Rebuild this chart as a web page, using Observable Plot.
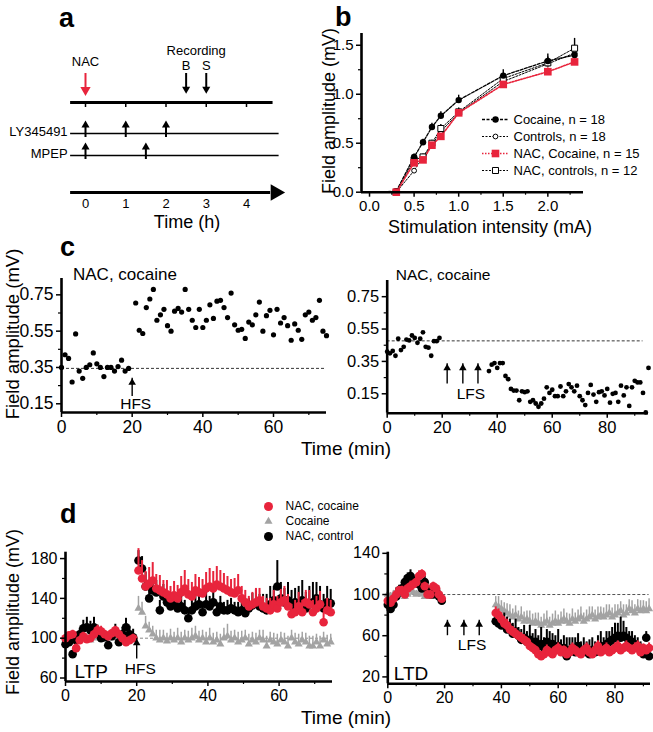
<!DOCTYPE html>
<html><head><meta charset="utf-8">
<script src="https://cdn.jsdelivr.net/npm/d3@7"></script>
<script src="https://cdn.jsdelivr.net/npm/@observablehq/plot@0.6"></script>
<style>
html,body{margin:0;padding:0;background:#fff;}
#fig{position:relative;width:653px;height:732px;overflow:hidden;font-family:"Liberation Sans",Arial,Helvetica,sans-serif;color:#000;}
.lbl{position:absolute;white-space:nowrap;line-height:1;}
</style></head><body><div id="fig"></div>
<script>
const RED = "#e8243c";
const GREY = "#a3a3a3";
const FONT = '"Liberation Sans", Arial, Helvetica, sans-serif';

// ---------- panel a (schematic timeline, hours)
const aHourTicks = [0, 1, 2, 3, 4];
const aLineStart = -0.37, aMainEnd = 4.66, aRowEnd = 4.81, aAxisEnd = 4.6, aAxisHead = 4.72;
const nacTimes = [0];
const nacLabel = ["NAC"];
const recordingTimes = [2.5, 3];
const recordingLabels = ["B", "S"];
const recordingTitle = ["Recording"];
const drugRows = ["LY345491", "MPEP"];
const lyTimes = [0, 1, 2];
const mpepTimes = [0, 1.5];

// ---------- panel b (input-output curves)
const bX = [0, 0.3, 0.5, 0.6, 0.7, 0.8, 1.0, 1.5, 2.0, 2.3];
const bCocaine     = [0, 0.01, 0.36, 0.51, 0.665, 0.78, 0.94, 1.19, 1.34, 1.40];
const bCocaineErr  = [0, 0, 0.03, 0.03, 0.04, 0.04, 0.05, 0.06, 0.07, 0.05];
const bControls    = [0, 0, 0.22, 0.36, 0.48, 0.62, 0.81, 1.13, 1.31, 1.42];
const bNacCocaine  = [0, 0, 0.30, 0.33, 0.48, 0.57, 0.81, 1.10, 1.23, 1.33];
const bNacCocaineErr = [0, 0, 0.03, 0.03, 0.03, 0.04, 0.04, 0.04, 0.04, 0.04];
const bNacControls = [0, 0, 0.33, 0.36, 0.50, 0.65, 0.82, 1.16, 1.32, 1.47];
const bNacControlsErr = [0, 0, 0.03, 0.03, 0.03, 0.04, 0.04, 0.05, 0.06, 0.10];
const bKeys = ["cocaine", "controls", "nacCocaine", "nacControls"];
const bLegendLabels = ["Cocaine, n = 18", "Controls, n = 18", "NAC, Cocaine, n = 15", "NAC, controls, n = 12"];
const bMarkerFrom = 0.3;

// ---------- panel c (single experiments)
const cLeftPre = [0.35,0.42,0.40,0.27,0.535,0.33,0.29,0.35,0.365,0.43,0.37,0.35,0.30,0.35,0.35,0.33,0.355,0.39,0.33,0.345];
const cLeftPost = [0.705,0.555,0.537,0.68,0.727,0.78,0.61,0.64,0.67,0.58,
  0.55,0.66,0.675,0.655,0.78,0.67,0.61,0.57,0.67,0.57,
  0.61,0.695,0.62,0.715,0.72,0.68,0.625,0.76,0.585,0.555,
  0.56,0.51,0.60,0.585,0.64,0.71,0.55,0.635,0.665,0.53,
  0.67,0.595,0.625,0.58,0.50,0.59,0.555,0.505,0.64,0.655,
  0.61,0.625,0.72,0.55,0.525];
const cRightPre = [0.41,0.40,0.415,0.385,0.49,0.42,0.44,0.485,0.48,0.51,0.495,0.465,0.49,0.53,0.44,0.435,0.385,0.475,0.475,0.495];
const cRightPost = [0.29,0.33,0.34,0.31,0.34,0.34,0.26,0.24,0.18,0.17,
  0.17,0.11,0.165,0.16,0.165,0.10,0.11,0.09,0.07,0.09,
  0.12,0.19,0.155,0.175,0.135,0.135,0.195,0.135,0.165,0.21,
  0.19,0.165,0.20,0.135,0.11,0.08,0.155,0.205,0.145,0.10,
  0.16,0.165,0.14,0.18,0.095,0.15,0.155,0.10,0.20,0.14,
  0.19,0.075,0.19,0.23,0.22,0.22,0.155,0.035,0.31];
const cBaselines = [0.345, 0.477];
const hfsTimeC = [20], hfsTailC = 0.19, hfsTipC = 0.29;
const lfsTimesC = [21.8, 27.5, 33], lfsTailC = 0.21, lfsTipC = 0.335;

// ---------- panel d (group averages, % baseline)
const dlRedPre = [100,103,104,90,98,102,99,100,104,108,107,104,102,105,108,104,100,96,98,100];
const dlRedPreErr = [3,3,4,4,3,4,4,3,4,5,5,4,4,4,4,4,4,3,4,4];
const dlBlackPre = [94,96,84,98,104,110,111,108,111,106,100,101,93,102,106,96,104,111,104,101];
const dlBlackPreErr = [4,4,3,5,6,8,10,9,10,7,5,6,4,6,8,5,7,9,8,8];
const dlGreyPre = [100,98,99,100,101,102,100,98,100,101,100,99,100,102,100,99,101,100,100,100];
const dlGreyPreErr = [4,4,4,4,5,5,4,4,5,4,4,5,4,4,5,4,4,4,4,4];
const dlRedPost = [168,160,152,155,158,150,148,146,144,140,143,140,146,150,144,142,148,146,145,150,
  152,150,154,152,150,148,146,145,148,140,136,132,134,136,138,132,130,128,134,130,
  136,138,132,124,126,132,126,136,134,126,130,134,116,128,126];
const dlRedPostErr = [22,18,15,16,18,14,15,12,14,12,14,13,16,18,15,14,16,15,14,16,
  18,17,18,16,15,14,13,15,16,12,12,10,12,14,12,10,10,12,14,12,
  13,14,12,10,12,14,12,12,14,12,12,13,10,12,12];
const dlBlackPost = [178,170,152,140,148,146,128,142,136,132,134,130,132,128,120,128,132,134,126,134,
  132,136,126,132,128,128,130,128,126,128,125,130,133,135,132,130,128,134,138,152,
  140,136,138,132,136,134,138,130,134,136,140,134,130,136,135];
const dlBlackPostErr = [10,12,14,12,10,12,10,12,10,8,10,10,12,10,8,10,12,10,10,12,
  10,12,10,10,8,10,10,8,10,10,8,10,12,14,12,14,16,18,14,26,
  16,14,18,16,14,18,20,16,18,20,16,18,14,16,14];
const dlGreyPost = [130,126,112,108,104,100,98,100,97,100,98,100,96,100,98,100,102,98,100,96,
  100,96,98,94,100,102,98,100,96,98,100,94,98,96,100,98,92,98,96,94,
  98,96,92,100,96,94,98,96,92,92,96,92,98,94,96];
const dlGreyPostErr = [12,10,10,8,8,8,10,8,8,9,8,10,10,8,9,10,10,9,8,10,
  10,9,8,10,10,12,9,8,10,9,8,10,8,9,8,10,10,8,9,10,
  8,9,10,8,9,10,8,9,10,10,8,10,8,9,8];

const drRedPre = [94,92,96,100,104,104,100,106,108,110,112,118,120,108,100,100,108,106,100,96];
const drRedPreErr = [3,3,3,4,4,4,4,4,5,4,4,5,4,4,4,4,4,4,3,3];
const drBlackPre = [90,86,90,98,104,106,112,116,118,114,112,110,106,112,104,100,100,104,98,94];
const drBlackPreErr = [3,3,4,4,5,5,6,5,6,5,5,6,5,6,5,4,4,4,4,3];
const drGreyPre = [100,98,100,102,100,100,98,100,104,102,100,102,100,98,100,100,102,100,100,98];
const drGreyPreErr = [4,4,4,5,4,4,4,5,5,4,4,5,4,4,4,4,5,4,4,4];
const drRedPost = [82,80,76,72,70,66,64,62,60,58,56,54,50,48,46,42,40,42,46,44,
  42,46,48,44,46,42,44,48,46,44,42,46,48,44,42,46,50,44,46,48,
  44,46,48,50,46,48,50,48,46,48,50,44,48,46,48];
const drRedPostErr = [6,6,5,5,6,5,5,5,4,5,5,4,4,4,4,4,4,4,5,4,
  4,4,5,4,4,4,4,5,4,4,4,4,5,4,4,4,5,4,4,5,
  4,4,5,5,4,4,5,4,4,5,5,4,4,4,5];
const drBlackPost = [74,72,70,72,66,68,62,64,60,56,58,54,56,52,54,50,52,48,54,50,
  52,48,50,46,48,40,46,48,44,50,44,46,44,42,46,44,48,50,48,52,
  54,56,58,60,58,60,58,56,54,52,50,46,42,58,40];
const drBlackPostErr = [8,10,8,10,12,8,10,12,8,10,12,10,14,10,12,10,16,10,12,14,
  10,12,16,10,12,18,12,10,14,12,10,12,10,14,12,10,12,14,10,12,
  10,12,14,12,20,14,10,8,10,8,8,8,6,6,6];
const drGreyPost = [90,88,86,84,82,80,78,80,76,78,74,76,74,72,74,72,70,72,74,70,
  72,74,72,74,76,74,72,76,74,76,78,74,76,78,80,76,78,80,78,80,
  82,78,80,82,84,80,82,86,84,82,86,84,86,84,86];
const drGreyPostErr = [8,10,8,8,9,10,8,9,8,10,9,8,10,9,8,10,8,9,10,8,
  9,10,8,9,10,8,9,10,8,9,10,8,9,10,8,9,10,8,9,10,
  8,9,10,8,9,10,8,9,10,8,9,10,8,9,10];
const dBaseline = [100];
const dLegendLabels = ["NAC, cocaine", "Cocaine", "NAC, control"];
const hfsTimeD = [20], hfsTailD = 79, hfsTipD = 99.5;
const lfsTimesD = [21, 26.8, 32.2], lfsTailD = 60, lfsTipD = 75;

// sampling grids (minutes)
const preT = d3.range(0, 20);
const cLeftPostT = d3.range(21, 76);
const cRightPostT = d3.range(37, 96);
const dLeftPostT = d3.range(20.5, 75, 1);
const dRightPostT = d3.range(38, 93);

// ---------- helpers
const fig = document.getElementById("fig");
function place(svg, left, top) {
  svg.style.position = "absolute"; svg.style.left = left + "px"; svg.style.top = top + "px";
  fig.appendChild(svg);
}
function label(text, x, y, {size = 16, anchor = "middle", rotate = false, bold = false} = {}) {
  const d = document.createElement("div");
  d.className = "lbl"; d.textContent = text;
  d.style.fontSize = size + "px"; if (bold) d.style.fontWeight = "bold";
  d.style.left = x + "px"; d.style.top = y + "px";
  const tx = anchor === "middle" ? "-50%" : anchor === "end" ? "-100%" : "0";
  d.style.transform = `translate(${rotate ? "-50%" : tx},-50%)` + (rotate ? " rotate(-90deg)" : "");
  fig.appendChild(d);
}
const baseStyle = (fs) => ({fontFamily: FONT, fontSize: fs + "px", color: "black", background: "transparent", overflow: "visible"});
function rows(ts, vs, es) { return ts.map((t, i) => ({t, v: vs[i], e: es ? es[i] : 0})); }
function axesMarks({xd, yd, xMajor, xMinor, yMajor, yMinor, xFmt, yFmt, fs}) {
  return [
    Plot.axisX({ticks: xMinor, tickSize: 3, tickFormat: () => "", label: null, strokeWidth: 1.2}),
    Plot.axisY({ticks: yMinor, tickSize: 3, tickFormat: () => "", label: null, strokeWidth: 1.2}),
    Plot.axisX({ticks: xMajor, tickSize: 5, tickPadding: 3, tickFormat: xFmt, label: null, fontSize: fs, strokeWidth: 1.5}),
    Plot.axisY({ticks: yMajor, tickSize: 5, tickPadding: 3, tickFormat: yFmt, label: null, fontSize: fs, strokeWidth: 1.5}),
    Plot.ruleX([xd[0]], {y1: yd[0], y2: yd[1], strokeWidth: 2.6}),
    Plot.ruleY([yd[0]], {x1: xd[0], x2: xd[1], strokeWidth: 2.6})
  ];
}
function upArrows(ts, tail, tip, sw = 1.4) {
  return [
    Plot.ruleX(ts, {x: d => d, y1: tip, y2: tail, strokeWidth: sw}),
    Plot.dot(ts, {x: d => d, y: () => tip, symbol: "triangle", r: 2.8, fill: "black", dy: 4.3})
  ];
}
function seriesMarks(black, red, grey) {
  return [
    Plot.ruleX(grey, {x: "t", y1: "v", y2: d => d.v + d.e, stroke: GREY, strokeWidth: 1.5}),
    Plot.dot(grey, {x: "t", y: "v", symbol: "triangle", r: 3, fill: GREY}),
    Plot.ruleX(black, {x: "t", y1: "v", y2: d => d.v + d.e, stroke: "black", strokeWidth: 2}),
    Plot.dot(black, {x: "t", y: "v", r: 4.3, fill: "black"}),
    Plot.ruleX(red, {x: "t", y1: "v", y2: d => d.v + d.e, stroke: RED, strokeWidth: 2}),
    Plot.dot(red, {x: "t", y: "v", r: 4.3, fill: RED})
  ];
}
function safePlace(fn, left, top) {
  try { place(fn(), left, top); } catch (e) { console.error(e); }
}

// ================= panel a =================
const aX = {domain: [0, 4], range: [85, 246], axis: null};
const bandRows = (domain, range) => ({type: "band", domain, range, paddingInner: 1, paddingOuter: 0, axis: null});
safePlace(() => Plot.plot({
  width: 300, height: 115, margin: 0, x: aX,
  y: bandRows(["main"], [101.7, 101.7]),
  style: baseStyle(13),
  marks: [
    Plot.ruleY(["main"], {y: d => d, x1: aLineStart, x2: aMainEnd, strokeWidth: 3}),
    Plot.tickX(aHourTicks, {x: d => d, y: () => "main", insetTop: 0, insetBottom: -5, strokeWidth: 1.5}),
    Plot.tickX(nacTimes, {x: d => d, y: () => "main", insetTop: -29, insetBottom: 12, stroke: RED, strokeWidth: 2}),
    Plot.dot(nacTimes, {x: d => d, y: () => "main", symbol: "triangle", rotate: 180, r: 3.8, fill: RED, dy: -12.5}),
    Plot.text(nacLabel, {x: () => nacTimes[0], y: () => "main", text: d => d, dy: -41, fontSize: 13}),
    Plot.tickX(recordingTimes, {x: d => d, y: () => "main", insetTop: -29, insetBottom: 14, strokeWidth: 2}),
    Plot.dot(recordingTimes, {x: d => d, y: () => "main", symbol: "triangle", rotate: 180, r: 3, fill: "black", dy: -13.4}),
    Plot.text(recordingTimes, {x: d => d, y: () => "main", text: (d, i) => recordingLabels[i], dy: -37, fontSize: 13}),
    Plot.text(recordingTitle, {x: () => d3.mean(recordingTimes), y: () => "main", text: d => d, dy: -52, fontSize: 13})
  ]
}), 0, 0);

const drugEvents = [...lyTimes.map(t => ({t, row: drugRows[0]})), ...mpepTimes.map(t => ({t, row: drugRows[1]}))];
safePlace(() => Plot.plot({
  width: 300, height: 170, margin: 0, x: aX,
  y: bandRows(drugRows, [133, 155]),
  style: baseStyle(13),
  marks: [
    Plot.ruleY(drugRows, {y: d => d, x1: aLineStart, x2: aRowEnd, strokeWidth: 1.6}),
    Plot.text(drugRows, {x: () => aLineStart, y: d => d, text: d => d, textAnchor: "end", dx: -3, dy: -1.5, fontSize: 13}),
    Plot.tickX(drugEvents, {x: "t", y: "row", insetTop: -9, insetBottom: -4, strokeWidth: 2}),
    Plot.dot(drugEvents, {x: "t", y: "row", symbol: "triangle", r: 3, fill: "black", dy: -8.3})
  ]
}), 0, 0);

safePlace(() => Plot.plot({
  width: 300, height: 240, marginTop: 0, marginLeft: 0, marginRight: 0, marginBottom: 48,
  x: {domain: [0, 4], range: [85, 246]},
  y: {type: "point", domain: ["axis"], range: [192, 192], padding: 0, axis: null},
  style: baseStyle(13),
  marks: [
    Plot.ruleY(["axis"], {y: d => d, x1: aLineStart, x2: aAxisEnd, strokeWidth: 3}),
    Plot.dot(["axis"], {x: () => aAxisHead, y: d => d, symbol: "triangle", rotate: 90, r: 6.2, fill: "black"}),
    Plot.axisX({ticks: aHourTicks, tickSize: 0, tickPadding: 6, tickFormat: d3.format("d"), label: null, fontSize: 13})
  ]
}), 0, 0);

// ================= panel b =================
const bRows = bX.map((x, i) => ({x, cocaine: bCocaine[i], controls: bControls[i], nacCocaine: bNacCocaine[i], nacControls: bNacControls[i],
  cocaineErr: bCocaineErr[i], nacCocaineErr: bNacCocaineErr[i], nacControlsErr: bNacControlsErr[i]}));
const bStyle = {
  cocaine:     {stroke: "black", dash: "3,1.5", sw: 1.3, symbol: "circle", r: 3.2, fill: "black", mstroke: "none"},
  controls:    {stroke: "black", dash: "2,1.5", sw: 1,   symbol: "circle", r: 2.4, fill: "white", mstroke: "black"},
  nacCocaine:  {stroke: RED,     dash: "1.5,1.5", sw: 1.6, symbol: "square", r: 4.3, fill: RED, mstroke: "none"},
  nacControls: {stroke: "black", dash: "2,1.5", sw: 1,   symbol: "square", r: 3.4, fill: "white", mstroke: "black"}
};
const bOrder = ["controls", "nacControls", "cocaine", "nacCocaine"];
const bMarkRows = bRows.filter(d => d.x >= bMarkerFrom);
const bErrMarks = [["cocaine", "cocaineErr"], ["nacCocaine", "nacCocaineErr"], ["nacControls", "nacControlsErr"]].map(([k, e]) =>
  Plot.ruleX(bMarkRows.filter(d => d[e] > 0), {x: "x", y1: k, y2: d => d[k] + d[e], stroke: bStyle[k].stroke, strokeWidth: 1.4}));
safePlace(() => Plot.plot({
  width: 353, height: 230, marginLeft: 61, marginRight: 70, marginTop: 13, marginBottom: 58.3,
  x: {domain: [-0.09, 2.4]}, y: {domain: [0, 1.62]},
  style: baseStyle(15),
  marks: [
    ...bOrder.map(k => Plot.line(bRows, {x: "x", y: k, stroke: bStyle[k].stroke, strokeWidth: bStyle[k].sw, strokeDasharray: bStyle[k].dash})),
    ...bErrMarks,
    ...bOrder.map(k => Plot.dot(bMarkRows, {x: "x", y: k, symbol: bStyle[k].symbol, r: bStyle[k].r, fill: bStyle[k].fill, stroke: bStyle[k].mstroke, strokeWidth: 1})),
    ...axesMarks({xd: [-0.09, 2.4], yd: [0, 1.62], xMajor: [0, 0.5, 1, 1.5, 2], xMinor: [0.25, 0.75, 1.25, 1.75, 2.25],
      yMajor: [0, 0.5, 1, 1.5], yMinor: [0.25, 0.75, 1.25], xFmt: d3.format(".1f"), yFmt: d3.format(".1f"), fs: 15})
  ]
}), 300, 20);

const bLegendRows = bLegendLabels.map((lab, i) => ({lab, key: bKeys[i]}));
safePlace(() => Plot.plot({
  width: 175, height: 80, margin: 0,
  x: {domain: [0, 1], range: [4, 30], axis: null},
  y: {type: "point", domain: bLegendLabels, range: [13, 66], padding: 0, axis: null},
  style: baseStyle(13),
  marks: [
    ...bLegendRows.map(r => Plot.ruleY([r], {y: "lab", x1: 0, x2: 1, stroke: bStyle[r.key].stroke, strokeWidth: bStyle[r.key].sw, strokeDasharray: bStyle[r.key].dash})),
    ...bLegendRows.map(r => Plot.dot([r], {x: () => 0.5, y: "lab", symbol: bStyle[r.key].symbol, r: bStyle[r.key].r, fill: bStyle[r.key].fill, stroke: bStyle[r.key].mstroke, strokeWidth: 1})),
    Plot.text(bLegendRows, {x: () => 1, y: "lab", text: "lab", textAnchor: "start", dx: 5, fontSize: 13})
  ]
}), 478, 105);

// ================= panel c =================
const cL = [...rows(preT, cLeftPre), ...rows(cLeftPostT, cLeftPost)];
safePlace(() => Plot.plot({
  width: 335, height: 200, marginLeft: 61, marginRight: 9, marginTop: 18, marginBottom: 48,
  x: {domain: [0, 75]}, y: {domain: [0.102, 0.84]},
  style: baseStyle(17.5),
  marks: [
    Plot.ruleY([cBaselines[0]], {x1: 0, x2: 75, strokeWidth: 0.8, strokeDasharray: "3,2"}),
    Plot.dot(cL, {x: "t", y: "v", r: 2.6, fill: "black"}),
    ...upArrows(hfsTimeC, hfsTailC, hfsTipC),
    Plot.text(["HFS"], {x: () => hfsTimeC[0] + 1, y: () => 0.15, text: d => d, fontSize: 15.5}),
    ...axesMarks({xd: [0, 75], yd: [0.102, 0.84], xMajor: [0, 20, 40, 60], xMinor: [10, 30, 50, 70],
      yMajor: [0.15, 0.35, 0.55, 0.75], yMinor: [0.25, 0.45, 0.65], xFmt: d3.format("d"), yFmt: d3.format(".2f"), fs: 17.5})
  ]
}), 0, 260);

const cR = [...rows(preT, cRightPre), ...rows(cRightPostT, cRightPost)];
safePlace(() => Plot.plot({
  width: 318, height: 200, marginLeft: 51.7, marginRight: 5, marginTop: 20, marginBottom: 47.3,
  x: {domain: [0, 95]}, y: {domain: [0.03, 0.85]},
  style: baseStyle(16.5),
  marks: [
    Plot.ruleY([cBaselines[1]], {x1: 0, x2: 93, strokeWidth: 0.8, strokeDasharray: "3,2"}),
    Plot.dot(cR, {x: "t", y: "v", r: 2.4, fill: "black"}),
    ...upArrows(lfsTimesC, lfsTailC, lfsTipC),
    Plot.text(["LFS"], {x: () => d3.mean(lfsTimesC) + 3, y: () => 0.15, text: d => d, fontSize: 15.5}),
    ...axesMarks({xd: [0, 95], yd: [0.03, 0.85], xMajor: [0, 20, 40, 60, 80], xMinor: [10, 30, 50, 70, 90],
      yMajor: [0.15, 0.35, 0.55, 0.75], yMinor: [0.25, 0.45, 0.65], xFmt: d3.format("d"), yFmt: d3.format(".2f"), fs: 16.5})
  ]
}), 335, 260);

// ================= panel d =================
const dlRed = [...rows(preT, dlRedPre, dlRedPreErr), ...rows(dLeftPostT, dlRedPost, dlRedPostErr)];
const dlBlack = [...rows(preT, dlBlackPre, dlBlackPreErr), ...rows(dLeftPostT, dlBlackPost, dlBlackPostErr)];
const dlGrey = [...rows(preT, dlGreyPre, dlGreyPreErr), ...rows(dLeftPostT, dlGreyPost, dlGreyPostErr)];
safePlace(() => Plot.plot({
  width: 335, height: 200, marginLeft: 65, marginRight: 3, marginTop: 21.7, marginBottom: 49,
  x: {domain: [0, 75]}, y: {domain: [56.5, 186.4]},
  style: baseStyle(16),
  marks: [
    Plot.ruleY(dBaseline, {x1: 0, x2: 75, stroke: "#888", strokeWidth: 1, strokeDasharray: "3,2"}),
    ...seriesMarks(dlBlack, dlRed, dlGrey),
    ...upArrows(hfsTimeD, hfsTailD, hfsTipD),
    Plot.text(["HFS"], {x: () => hfsTimeD[0] + 1, y: () => 69, text: d => d, fontSize: 15.5}),
    Plot.text(["LTP"], {x: () => 2.5, y: () => 66, text: d => d, textAnchor: "start", fontSize: 19}),
    ...axesMarks({xd: [0, 75], yd: [56.5, 186.4], xMajor: [0, 20, 40, 60], xMinor: [10, 30, 50, 70],
      yMajor: [60, 100, 140, 180], yMinor: [80, 120, 160], xFmt: d3.format("d"), yFmt: d3.format("d"), fs: 16})
  ]
}), 0, 530);

const drRed = [...rows(preT, drRedPre, drRedPreErr), ...rows(dRightPostT, drRedPost, drRedPostErr)];
const drBlack = [...rows(preT, drBlackPre, drBlackPreErr), ...rows(dRightPostT, drBlackPost, drBlackPostErr)];
const drGrey = [...rows(preT, drGreyPre, drGreyPreErr), ...rows(dRightPostT, drGreyPost, drGreyPostErr)];
safePlace(() => Plot.plot({
  width: 318, height: 200, marginLeft: 52.3, marginRight: 3, marginTop: 21.7, marginBottom: 46.7,
  x: {domain: [0, 92.5]}, y: {domain: [13.3, 141.1]},
  style: baseStyle(16),
  marks: [
    Plot.ruleY(dBaseline, {x1: 0, x2: 92, stroke: "#555", strokeWidth: 1, strokeDasharray: "3,2"}),
    ...seriesMarks(drBlack, drRed, drGrey),
    ...upArrows(lfsTimesD, lfsTailD, lfsTipD),
    Plot.text(["LFS"], {x: () => d3.mean(lfsTimesD) + 3, y: () => 50.5, text: d => d, fontSize: 15.5}),
    Plot.text(["LTD"], {x: () => 2.1, y: () => 23, text: d => d, textAnchor: "start", fontSize: 19}),
    ...axesMarks({xd: [0, 92.5], yd: [13.3, 141.1], xMajor: [0, 20, 40, 60, 80], xMinor: [10, 30, 50, 70, 90],
      yMajor: [20, 60, 100, 140], yMinor: [40, 80, 120], xFmt: d3.format("d"), yFmt: d3.format("d"), fs: 16})
  ]
}), 335, 530);

// legend d
const dLegendStyle = [{symbol: "circle", r: 4.5, fill: RED}, {symbol: "triangle", r: 3, fill: GREY}, {symbol: "circle", r: 4.5, fill: "black"}];
const dLegendRows = dLegendLabels.map((lab, i) => ({lab, ...dLegendStyle[i]}));
safePlace(() => Plot.plot({
  width: 130, height: 50, margin: 0,
  x: {domain: [0, 1], range: [18, 100], axis: null},
  y: {type: "point", domain: dLegendLabels, range: [10, 41.7], padding: 0, axis: null},
  style: baseStyle(12),
  marks: [
    ...dLegendRows.map(r => Plot.dot([r], {x: () => 0, y: "lab", symbol: r.symbol, r: r.r, fill: r.fill})),
    Plot.text(dLegendRows, {x: () => 0, y: "lab", text: "lab", textAnchor: "start", dx: 17, fontSize: 12})
  ]
}), 250, 495);

// ================= free text =================
label("a", 59, 17.6, {size: 27, bold: true, anchor: "start"});
label("b", 335, 17.3, {size: 27, bold: true, anchor: "start"});
label("c", 60, 247.3, {size: 27, bold: true, anchor: "start"});
label("d", 60, 513.6, {size: 27, bold: true, anchor: "start"});
label("Time (h)", 187, 222, {size: 18});
label("Field amplitude (mV)", 329, 111, {size: 18, rotate: true});
label("Stimulation intensity (mA)", 490, 227, {size: 18});
label("NAC, cocaine", 73, 274.1, {size: 17, anchor: "start"});
label("NAC, cocaine", 395.7, 274.6, {size: 15.5, anchor: "start"});
label("Field amplitude (mV)", 13, 334, {size: 18.5, rotate: true});
label("Time (min)", 346, 448.4, {size: 19});
label("Field amplitude (mV)", 13, 612, {size: 18, rotate: true});
label("Time (min)", 346, 717, {size: 19});
</script></body></html>
